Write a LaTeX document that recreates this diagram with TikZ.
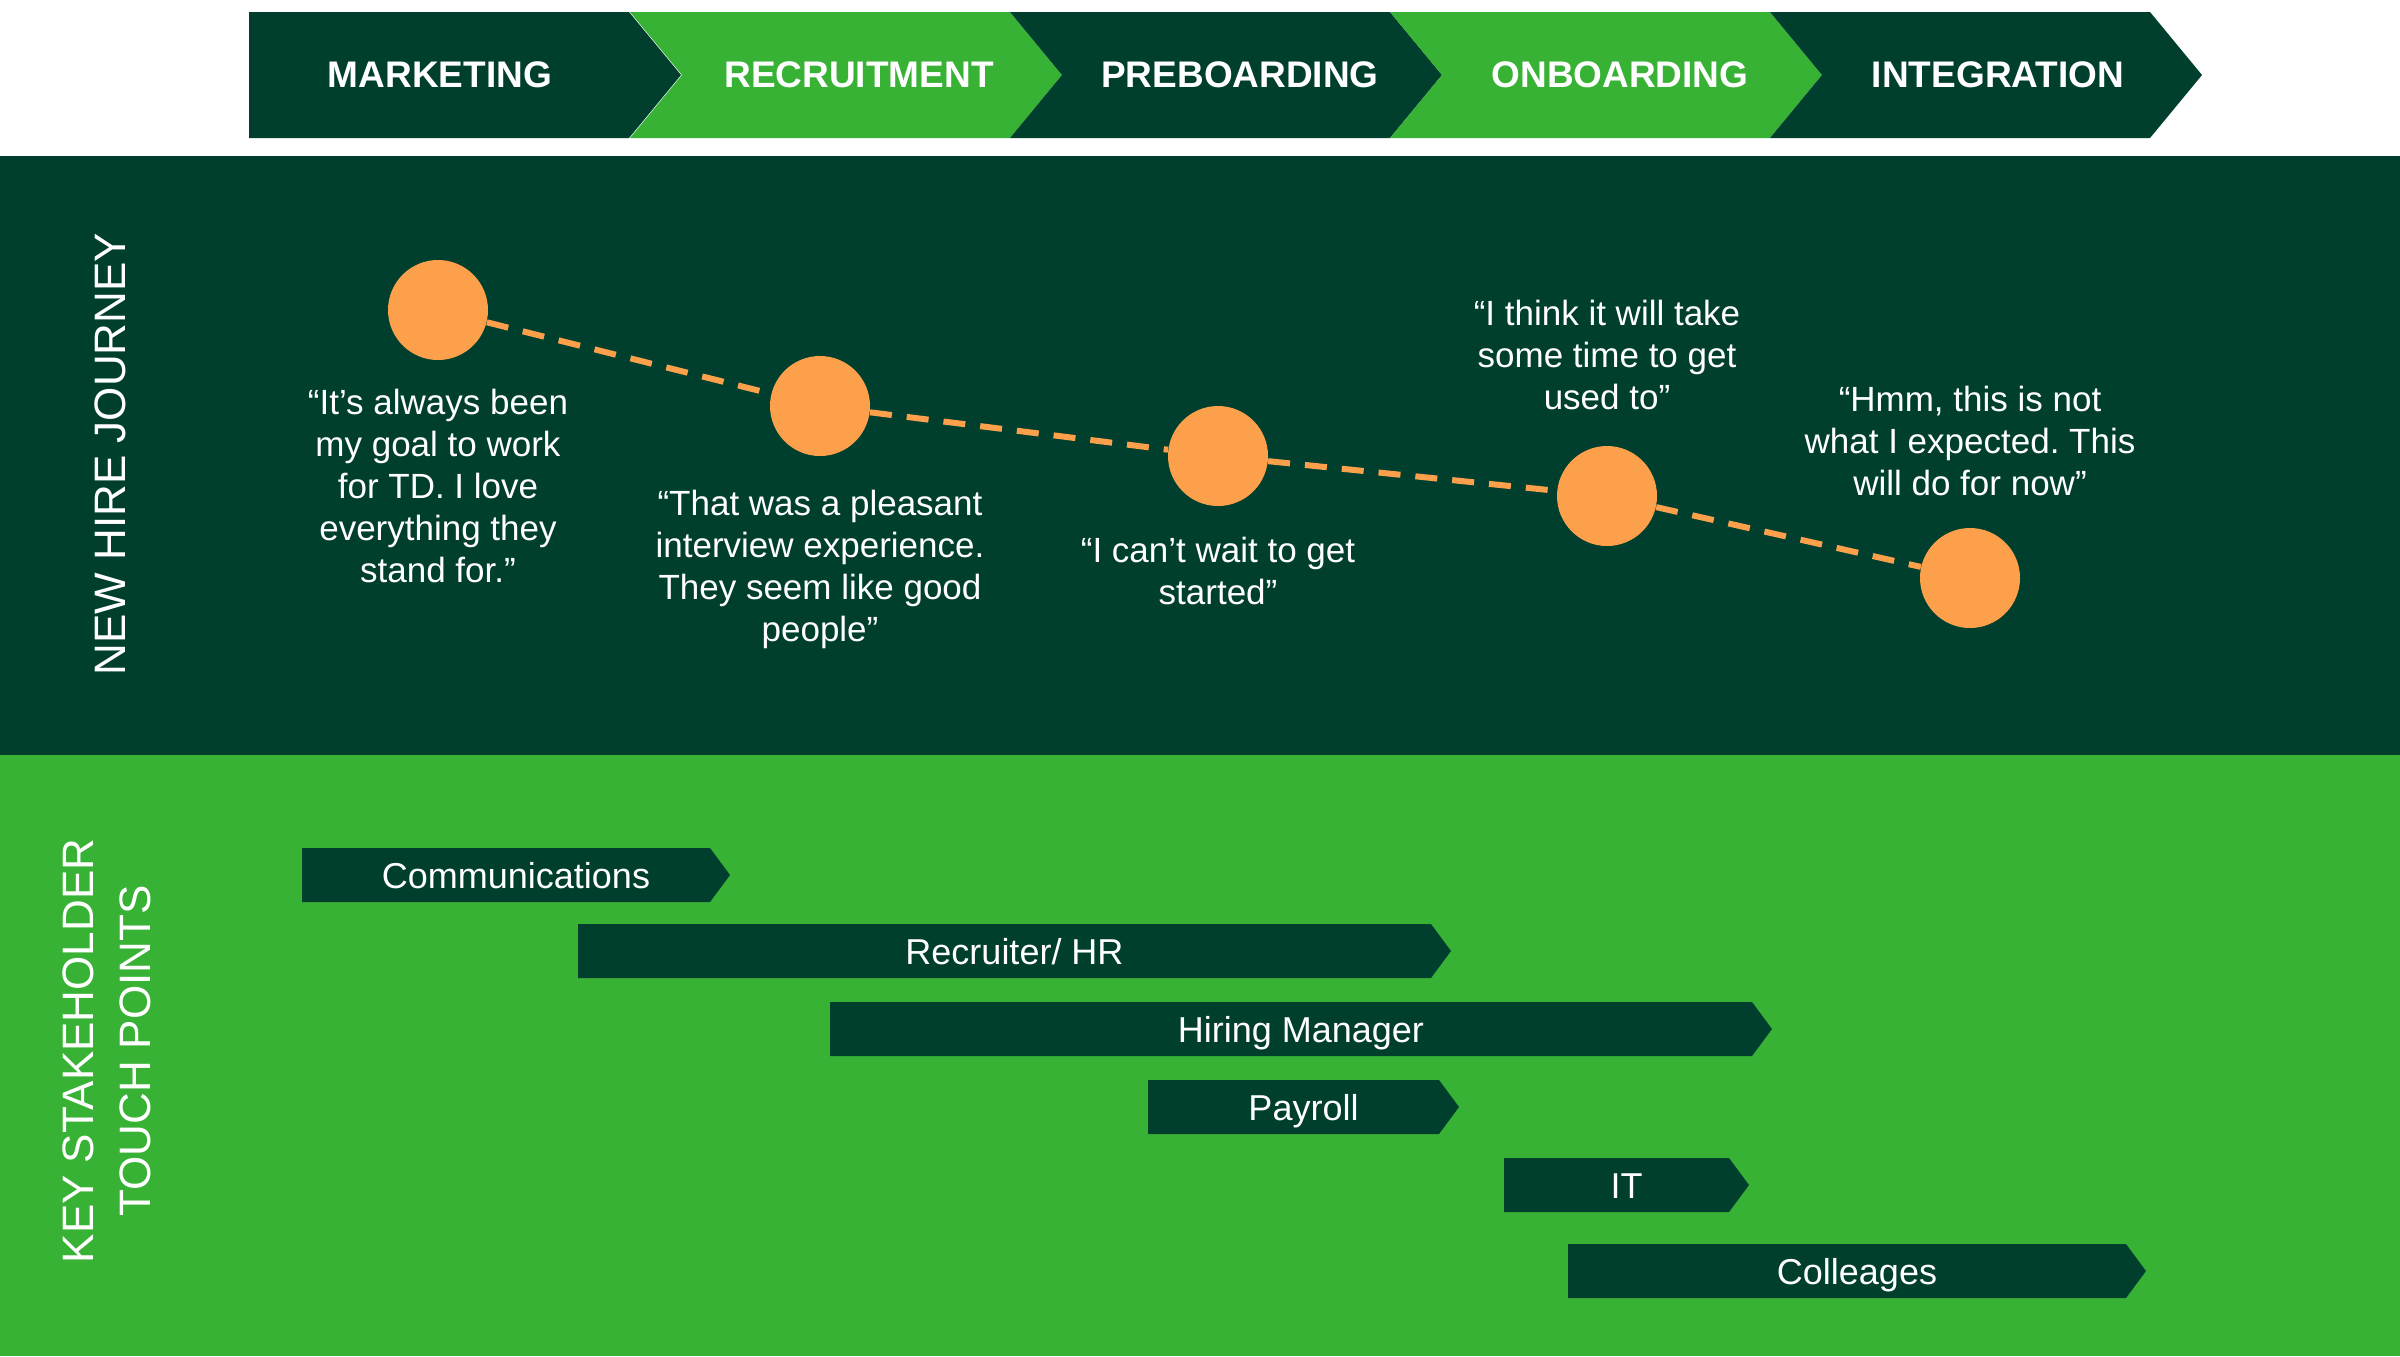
\documentclass[tikz,border=0pt]{standalone}
\usepackage{fontspec}
\setmainfont{Liberation Sans}
\usetikzlibrary{positioning}
\definecolor{tdDark}{RGB}{0,63,46}
\definecolor{tdLime}{RGB}{55,178,52}
\definecolor{tdOrange}{RGB}{253,160,75}
\frenchspacing

\begin{document}
\begin{tikzpicture}[x=0.5pt,y=-0.5pt,
		phase/.style={text=white,font=\fontsize{18.5}{23}\selectfont\bfseries},
		dot/.style={circle,fill=tdOrange,minimum size=50pt,inner sep=0pt},
		quote/.style={text=white,align=center,inner sep=0pt,font=\fontsize{17.5}{21}\selectfont},
		touch/.style={text=white,anchor=base,inner sep=0pt,font=\fontsize{18}{22}\selectfont},
		side/.style={text=white,rotate=90,align=center,font=\fontsize{22}{28.5}\selectfont},
		journey/.style={tdOrange,line width=3pt,dash pattern=on 11pt off 7.5pt}]
	\useasboundingbox (0,0) rectangle (2400,1356);
	\fill[white] (0,0) rectangle (2400,156);
	\fill[tdDark] (0,156) rectangle (2400,755);
	\fill[tdLime] (0,755) rectangle (2400,1356);
	\foreach \x/\n/\col/\lab/\tx [count=\i] in {249/0/tdDark/MARKETING/440,
		630/52/tdLime/RECRUITMENT/859, 1010/52/tdDark/PREBOARDING/1240,
		1390/52/tdLime/ONBOARDING/1620, 1770/52/tdDark/INTEGRATION/1998}{
		\fill[\col] (\x,12) -- (\x+380,12) -- (\x+432,75) -- (\x+380,138)
			-- (\x,138) -- (\x+\n,75) -- cycle;
		\node[phase] (ph\i) at (\tx,75) {\lab};
	}
	\node[side] (journeylab) at (110,454) {NEW HIRE JOURNEY};
	\node[side] (touchlab) at (107,1051) {KEY STAKEHOLDER\\TOUCH POINTS};
	\foreach \x/\y [count=\i] in {438/310, 820/406, 1218/456, 1607/496, 1970/578}
		\node[dot] (c\i) at (\x,\y) {};
	\foreach \i [evaluate=\i as \j using int(\i+1)] in {1,...,4}
		\draw[journey] (c\i) -- (c\j);
	\node[quote,below=14pt of c1] (q1) {“It’s always been\\my goal to work\\for TD. I love\\everything they\\stand for.”};
	\node[quote,below=16.5pt of c2] (q2) {“That was a pleasant\\interview experience.\\They seem like good\\people”};
	\node[quote,below=15pt of c3] (q3) {“I can’t wait to get\\started”};
	\node[quote,above=17.5pt of c4] (q4) {“I think it will take\\some time to get\\used to”};
	\node[quote,above=15.5pt of c5] (q5) {“Hmm, this is not\\what I expected. This\\will do for now”};
	\foreach \l/\r/\y/\lab [count=\i] in {302/710/848/Communications,
		578/1431/924/{Recruiter/ HR}, 830/1752/1002/Hiring Manager,
		1148/1439/1080/Payroll, 1504/1729/1158/IT, 1568/2126/1244/Colleages}{
		\fill[tdDark] (\l,\y) -- (\r,\y) -- (\r+20,\y+27) -- (\r,\y+54) -- (\l,\y+54) -- cycle;
		\node[touch] (tp\i) at ({(\l+\r+20)/2},\y+40) {\lab};
	}
\end{tikzpicture}
\end{document}
